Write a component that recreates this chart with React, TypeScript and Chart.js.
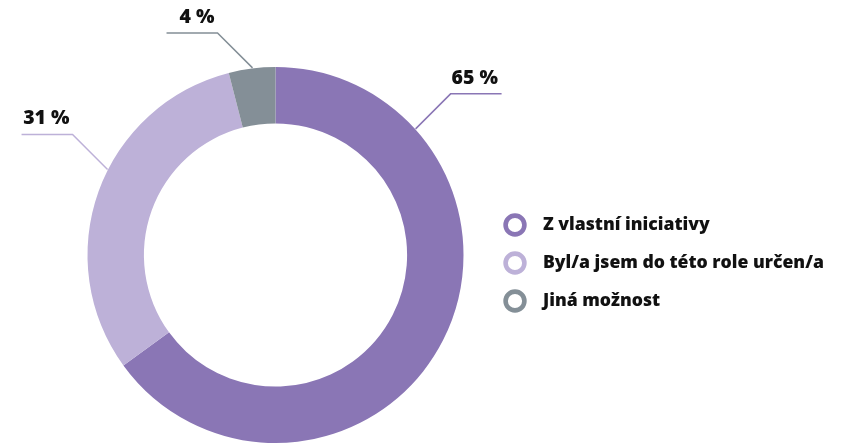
import React, { useEffect, useRef } from "react";
import { Chart, registerables } from "chart.js";

Chart.register(...registerables);

const categories = ["Z vlastní iniciativy", "Byl/a jsem do této role určen/a", "Jiná možnost"];
const values = [65, 31, 4];
const valueLabels = ["65 %", "31 %", "4 %"];
const colors = ["#8A76B5", "#BDB1D8", "#848F97"];

const FONT = "'Open Sans', 'Noto Sans', sans-serif";

const calloutPlugin = {
  id: "callouts",
  afterDraw(chart: any, _args: any, opts: any) {
    const ctx = chart.ctx as CanvasRenderingContext2D;
    const meta = chart.getDatasetMeta(0);
    const angles: number[] = opts.angles;
    ctx.save();
    meta.data.forEach((arc: any, i: number) => {
      const a = (angles[i] * Math.PI) / 180;
      const R = arc.outerRadius + 0.5;
      const sx = arc.x + R * Math.sin(a);
      const sy = arc.y - R * Math.cos(a);
      const dir = Math.sin(a) >= 0 ? 1 : -1;
      const ex = sx + dir * opts.diag;
      const ey = sy - opts.diag;
      const hx = ex + dir * opts.horiz;
      ctx.strokeStyle = colors[i];
      ctx.lineWidth = 1.5;
      ctx.beginPath();
      ctx.moveTo(sx, sy);
      ctx.lineTo(ex, ey);
      ctx.lineTo(hx, ey);
      ctx.stroke();
      ctx.fillStyle = "#111111";
      ctx.font = `800 19.5px ${FONT}`;
      ctx.textBaseline = "alphabetic";
      if (dir > 0) {
        ctx.textAlign = "left";
        ctx.fillText(valueLabels[i], ex + 1, ey - 10);
      } else {
        ctx.textAlign = "right";
        ctx.fillText(valueLabels[i], ex - 3, ey - 10);
      }
    });
    // legend
    categories.forEach((c, i) => {
      const cx = opts.legendX;
      const cy = opts.legendY + i * opts.legendGap;
      ctx.beginPath();
      ctx.arc(cx, cy, 9.4, 0, Math.PI * 2);
      ctx.strokeStyle = colors[i];
      ctx.lineWidth = 4.6;
      ctx.stroke();
      ctx.fillStyle = "#111111";
      ctx.font = `800 17.6px ${FONT}`;
      ctx.textAlign = "left";
      ctx.textBaseline = "middle";
      ctx.fillText(c, cx + 28, cy);
    });
    ctx.restore();
  },
};

export default function App() {
  const ref = useRef<HTMLCanvasElement | null>(null);
  useEffect(() => {
    document.body.style.margin = "0";
    const chart = new Chart(ref.current as HTMLCanvasElement, {
      type: "doughnut",
      data: {
        labels: categories,
        datasets: [
          {
            data: values,
            backgroundColor: colors,
            borderWidth: 0,
            hoverOffset: 0,
            offset: 0,
          },
        ],
      },
      options: {
        animation: false,
        responsive: true,
        maintainAspectRatio: false,
        events: [],
        cutout: "70%",
        layout: { padding: { left: 87.5, right: 379.5, top: 67, bottom: 1 } },
        plugins: {
          legend: { display: false },
          tooltip: { enabled: false },
          callouts: {
            angles: [48, 297, 353],
            diag: 35,
            horiz: 51,
            legendX: 515,
            legendY: 225,
            legendGap: 38,
          },
        } as any,
      },
      plugins: [calloutPlugin],
    });
    return () => chart.destroy();
  }, []);
  return (
    <div style={{ width: 843, height: 444, position: "relative" }}>
      <canvas ref={ref} />
    </div>
  );
}
